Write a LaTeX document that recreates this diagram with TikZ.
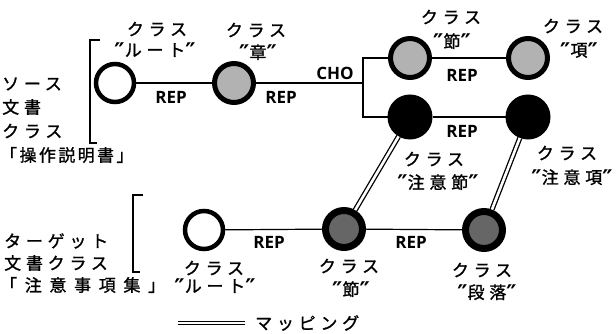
\documentclass[tikz,border=0pt]{standalone}
\usepackage{fontspec}
\newfontfamily\jp{Noto Sans CJK JP}[LetterSpace=28, FakeBold=1.2]
\newfontfamily\jpnarrow{Noto Sans CJK JP}[LetterSpace=14, FakeBold=1.2]
\newfontfamily\jpwide{Noto Sans CJK JP}[LetterSpace=45, FakeBold=1.2]
\newfontfamily\lat{Open Sans}
\newfontfamily\dv{DejaVu Sans}
\newcommand{\qq}{{\dv\bfseries\fontsize{23}{23}\selectfont\raisebox{-3pt}{\char"2033}}}
\tikzset{
  base/.style={circle, draw=black, inner sep=0pt},
  opencirc/.style={base, line width=4.5pt, minimum size=38pt, fill=white},
  graycirc/.style={base, line width=5pt, minimum size=39pt, fill=black!30},
  blackcirc/.style={base, line width=1pt, minimum size=44pt, fill=black},
  darkcirc/.style={base, line width=7pt, minimum size=37pt, fill=black!60},
  jlab/.style={font=\jp\fontsize{17}{19}\selectfont, inner sep=0pt},
  jlabn/.style={font=\jpnarrow\fontsize{17}{19}\selectfont, inner sep=0pt},
  jlabw/.style={font=\jpwide\fontsize{17}{19}\selectfont, inner sep=0pt},
  rep/.style={font=\lat\bfseries\fontsize{17}{19}\selectfont, inner sep=0pt},
  conn/.style={line width=1.2pt},
  mapping/.style={line width=1.3pt, double=white, double distance=2.6pt},
  brk/.style={line width=1.3pt}
}
\begin{document}
\begin{tikzpicture}[x=1pt,y=-1pt]
\useasboundingbox (0,0) rectangle (616,334);
% source circles
\node[opencirc] (sroot) at (115,83) {};
\node[graycirc] (schap) at (234,83) {};
\node[graycirc] (ssec) at (410,58) {};
\node[graycirc] (sitem) at (528,58) {};
\node[blackcirc] (snote) at (410,117) {};
\node[blackcirc] (snitem) at (528,117) {};
% target circles
\node[opencirc] (troot) at (204,230) {};
\node[darkcirc] (tsec) at (344,229) {};
\node[darkcirc] (tpar) at (484,230) {};
\coordinate (cho) at (363,83);
% connectors
\draw[conn] (sroot) -- (schap);
\draw[conn] (schap) -- (cho);
\draw[conn] (ssec) -| (cho) |- (snote);
\draw[conn] (ssec) -- (sitem);
\draw[conn] (snote) -- (snitem);
\draw[conn] (troot) -- (tsec);
\draw[conn] (tsec) -- (tpar);
\draw[mapping] (snote) -- (tsec);
\draw[mapping] (snitem) -- (tpar);
% labels source
\node[jlab] (l1) at (157,29) {クラス};
\node[jlab] (l2) at (155,51) {\qq ルート\qq};
\node[jlab] (l3) at (256,30) {クラス};
\node[jlab] (l4) at (258,53) {\qq 章\qq};
\node[rep] (r1) at (171,97) {REP};
\node[rep] (r2) at (281,97) {REP};
\node[rep] (cholab) at (335,73) {CHO};
\node[jlab] (l5) at (451,17) {クラス};
\node[jlab] (l6) at (452,42) {\qq 節\qq};
\node[jlab] (l7) at (573,26) {クラス};
\node[jlab] (l8) at (579,51) {\qq 項\qq};
\node[rep] (r3) at (462,75) {REP};
\node[rep] (r4) at (462,131) {REP};
\node[jlab] (l9) at (434,159) {クラス};
\node[jlab] (l10) at (438,183) {\qq 注意節\qq};
\node[jlab] (l11) at (567,153) {クラス};
\node[jlab] (l12) at (572,178) {\qq 注意項\qq};
% labels target
\node[rep] (r5) at (269,242) {REP};
\node[rep] (r6) at (411,242) {REP};
\node[jlab] (l13) at (214,268) {クラス};
\node[jlab] (l14) at (215,287) {\qq ルート\qq};
\node[jlab] (l15) at (349,266) {クラス};
\node[jlab] (l16) at (351,290) {\qq 節\qq};
\node[jlab] (l17) at (482,270) {クラス};
\node[jlab] (l18) at (487,293) {\qq 段落\qq};
% left labels
\node[jlab, anchor=west] (s1) at (2,84) {ソース};
\node[jlab, anchor=west] (s2) at (2,107) {文書};
\node[jlab, anchor=west] (s3) at (2,131) {クラス};
\node[jlabn, anchor=west] (s4) at (0,155) {「操作説明書」};
\node[jlab, anchor=west] (t1) at (4,241) {ターゲット};
\node[jlab, anchor=west] (t2) at (4,263) {文書クラス};
\node[jlabw, anchor=west] (t3) at (0,285) {「注意事項集」};
% brackets
\draw[brk] (100,40) -- (90,40) -- (90,143) -- (97,143);
\draw[brk] (143,195) -- (133,195) -- (133,272) -- (140,272);
% legend
\coordinate (lga) at (178,323);
\coordinate (lgb) at (245,323);
\draw[line width=0.9pt, double=white, double distance=2pt] (lga) -- (lgb);
\node[jlab, anchor=west] (lgt) at (255,323) {マッピング};
\end{tikzpicture}
\end{document}
